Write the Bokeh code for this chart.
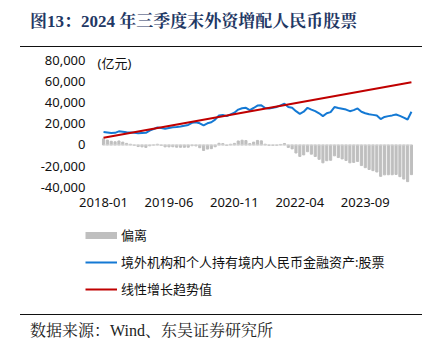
from bokeh.plotting import figure
from bokeh.layouts import column
from bokeh.models import (ColumnDataSource, FixedTicker, NumeralTickFormatter, Range1d,
                          Legend, LegendItem, Label, Div)
from bokeh.embed import file_html
from bokeh.resources import INLINE

# ---- data (亿元), monthly 2018-01 .. 2024-09 ----
tick_labels = ["2018-01", "2019-06", "2020-11", "2022-04", "2023-09"]
tick_pos = [0, 17, 34, 51, 68]

holdings = [12300, 11800, 11300, 11500, 12900, 12500, 12000, 11800, 11500, 11000,
            11300, 11500, 13600, 15000, 16500, 16000, 15300, 16000, 16700, 17000,
            17500, 18200, 19000, 21000, 21500, 20500, 18500, 20500, 21500, 24000,
            28000, 28300, 27300, 29000, 30500, 33500, 34800, 35200, 33000, 35000,
            37300, 37500, 35000, 34600, 35200, 36000, 37500, 39000, 36000, 35200,
            32000, 29500, 31500, 35200, 33500, 32000, 30000, 27300, 30000, 31100,
            35900, 35000, 34300, 33500, 32000, 33000, 34600, 31400, 30000, 29000,
            28500, 27900, 24500, 26500, 27300, 28000, 28900, 27500, 25800, 24100,
            31400]

deviation = [5800, 4600, 3500, 3000, 3800, 2700, 1500, 700, -300, -1500,
             -1800, -2300, -800, -100, 700, -400, -1800, -1800, -1700, -2100,
             -2200, -2200, -2100, -700, -900, -2600, -5200, -3900, -3500, -1700,
             1600, 1300, -400, 700, 1500, 3800, 4500, 4200, 1300, 2700,
             4300, 3900, 700, -400, -400, -300, 500, 1400, -2300, -3700,
             -7600, -10800, -9400, -6400, -8700, -10900, -13600, -16900, -14900, -14500,
             -10300, -11900, -13200, -14700, -16900, -16500, -15600, -19500, -21500, -23200,
             -24300, -25600, -29700, -28300, -28200, -28200, -27900, -30000, -32300, -34700,
             -28100]

months = list(range(len(holdings)))
trend_x = [months[0], months[-1]]
trend_y = [6900, 59400]

title_text = "图13：2024 年三季度末外资增配人民币股票"
source_text = "数据来源：Wind、东吴证券研究所"
unit_text = "(亿元)"
legend_labels = ["偏离", "境外机构和个人持有境内人民币金融资产:股票", "线性增长趋势值"]

FONT = "'Noto Sans', 'Noto Sans CJK SC'"
SERIF_CSS = "'Liberation Serif', 'Noto Serif CJK SC', 'Noto Sans CJK SC', serif"
BLUE = "#1479D4"
RED = "#C00000"
GRAY = "#BFBFBF"
INK = "#111111"
NAN = float("nan")

# ---- header (title + rule) ----
header = Div(width=440, height=50, margin=(0, 0, 0, 0), text=(
    '<div style="position:relative;width:440px;height:50px;margin:0;padding:0;">'
    '<div style="position:absolute;left:30px;top:12px;font-family:' + SERIF_CSS + ';'
    'font-weight:bold;font-size:17px;line-height:20px;color:#1F3864;white-space:nowrap;">'
    + title_text + '</div>'
    '<div style="position:absolute;left:20px;top:45.7px;width:402px;height:0;'
    'border-top:1.6px solid #111111;"></div></div>'))

# ---- main chart ----
src = ColumnDataSource(dict(m=months, h=holdings, d=deviation))

p = figure(width=440, height=165, output_backend="svg", toolbar_location=None,
           x_range=Range1d(-4.68, 82.35), y_range=Range1d(-43100, 84700),
           min_border_left=85, min_border_right=20, min_border_top=5,
           min_border_bottom=25)
p.title.visible = False
p.outline_line_color = None
p.grid.visible = False

p.vbar(x="m", top="d", bottom=0, width=0.55, color=GRAY, source=src)
p.line(x=[months[0], months[-1]], y=[0, 0], line_color="#D9D9D9", line_width=1)
p.line(x="m", y="h", line_color=BLUE, line_width=2, source=src)
p.line(x=trend_x, y=trend_y, line_color=RED, line_width=2)

for ax in (p.xaxis[0], p.yaxis[0]):
    ax.axis_line_color = None
    ax.major_tick_line_color = None
    ax.minor_tick_line_color = None
    ax.major_tick_out = 0
    ax.major_tick_in = 0
    ax.major_label_text_font = FONT
    ax.major_label_text_font_size = "13px"
    ax.major_label_text_color = INK

p.yaxis[0].ticker = FixedTicker(ticks=[-40000, -20000, 0, 20000, 40000, 60000, 80000])
p.yaxis[0].formatter = NumeralTickFormatter(format="0,0")
p.yaxis[0].major_label_standoff = 0
p.xaxis[0].ticker = FixedTicker(ticks=tick_pos)
p.xaxis[0].major_label_overrides = {t: l for t, l in zip(tick_pos, tick_labels)}
p.xaxis[0].major_label_standoff = 7

p.add_layout(Label(x=12, y=127.5, x_units="screen", y_units="screen", text=unit_text,
                   text_font=FONT, text_font_size="13px", text_color=INK,
                   text_baseline="middle"))

# ---- legend panel ----
leg = figure(width=440, height=85, output_backend="svg", toolbar_location=None,
             x_range=Range1d(0, 1), y_range=Range1d(0, 1),
             x_axis_location=None, y_axis_location=None,
             min_border_left=85, min_border_right=20, min_border_top=0,
             min_border_bottom=0)
leg.title.visible = False
leg.outline_line_color = None
leg.grid.visible = False
k_bar = leg.line(x=[0, 1], y=[NAN, NAN], line_color=GRAY, line_width=7)
k_blue = leg.line(x=[0, 1], y=[NAN, NAN], line_color=BLUE, line_width=2)
k_red = leg.line(x=[0, 1], y=[NAN, NAN], line_color=RED, line_width=2)

legend = Legend(items=[LegendItem(label=legend_labels[0], renderers=[k_bar]),
                       LegendItem(label=legend_labels[1], renderers=[k_blue]),
                       LegendItem(label=legend_labels[2], renderers=[k_red])],
                location=(0, 2), orientation="vertical")
legend.glyph_width = 32
legend.glyph_height = 18
legend.label_height = 18
legend.spacing = 8
legend.padding = 0
legend.margin = 0
legend.label_standoff = 4
legend.border_line_color = None
legend.background_fill_alpha = 0
legend.label_text_font = FONT
legend.label_text_font_size = "13px"
legend.label_text_color = INK
leg.add_layout(legend, "center")

# ---- footer (rule + source) ----
footer = Div(width=440, height=50, margin=(0, 0, 0, 0), text=(
    '<div style="position:relative;width:440px;height:50px;margin:0;padding:0;">'
    '<div style="position:absolute;left:20px;top:14.2px;width:402px;height:0;'
    'border-top:1.6px solid #111111;"></div>'
    '<div style="position:absolute;left:30px;top:21px;font-family:' + SERIF_CSS + ';'
    'font-size:16px;line-height:20px;color:#222222;white-space:nowrap;">'
    + source_text + '</div></div>'))

layout = column(header, p, leg, footer, spacing=0)
open("out.html", "w").write(file_html(layout, INLINE))
